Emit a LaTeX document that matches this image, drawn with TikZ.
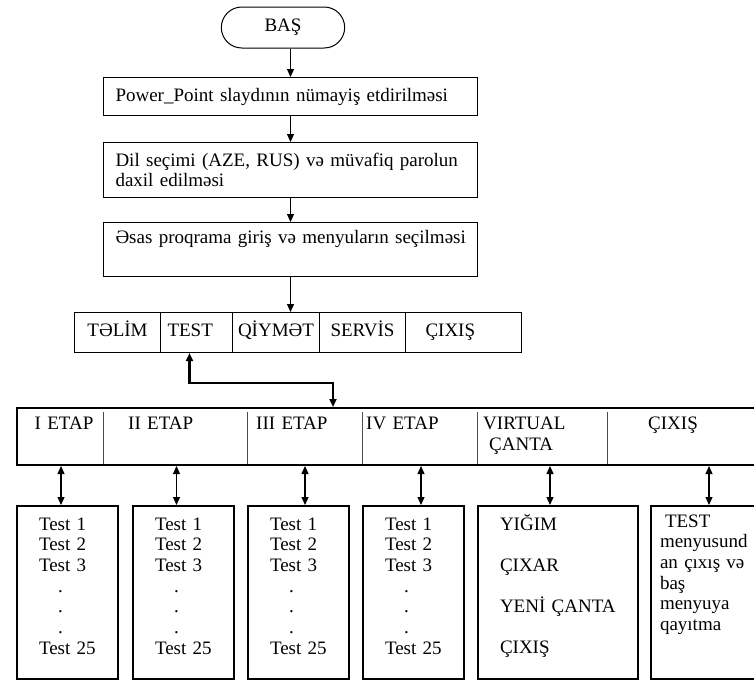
\documentclass[tikz,border=0pt]{standalone}
\usepackage{fontspec}
\setmainfont{Liberation Serif}
\usepackage{tikz}
\usetikzlibrary{arrows.meta,shapes.misc}
\tikzset{
  % frecce
  freccia/.style={line width=1.2pt, -{Triangle[length=8pt,width=7pt]}},
  doppia/.style={line width=1.2pt, {Triangle[length=8pt,width=7pt]}-{Triangle[length=8pt,width=7pt]}},
  % blocco iniziale
  inizio/.style={draw, line width=1pt, rounded rectangle, minimum width=130pt, minimum height=41pt},
  % riquadri del flusso
  blocco/.style={draw, line width=1pt, anchor=north west, align=left,
    inner xsep=12pt, inner ysep=0pt, text width=350pt},
  % celle del menu
  cella/.style={draw, line width=1pt, anchor=north west, minimum height=40pt,
    inner ysep=0pt, text height=24pt, text depth=16pt},
  % intestazioni delle tappe
  tappa/.style={anchor=north west, inner sep=0pt, align=left, text width=100pt},
  divisorio/.style={black!70, line width=0.8pt},
  % riquadri inferiori
  elenco/.style={draw, line width=2pt, anchor=north west, align=left,
    inner ysep=0pt, text height=24pt, text depth=149pt},
  prova/.style={elenco, inner xsep=22pt, text width=57pt}
}

\begin{document}
\begin{tikzpicture}[x=1pt, y=-1pt, font=\fontsize{19}{20.7}\selectfont]
  \useasboundingbox (0,0) rectangle (754,680);
  \clip (0,0) rectangle (754,680);

  % flusso principale
  \node[inizio] (bas) at (283,27.5) {BAŞ};
  \node[blocco, minimum height=38pt] (slayd) at (103,77) {Power\_Point slaydının nümayiş etdirilməsi};
  \node[blocco, minimum height=55pt] (dil) at (103,142) {Dil seçimi (AZE, RUS) və müvafiq parolun\\daxil edilməsi};
  \node[blocco, text height=21pt, text depth=33pt] (giris) at (103,222) {\mbox{Əsas proqrama giriş və menyuların seçilməsi}};

  \draw[freccia] (bas.south -| slayd.north) -- (slayd.north);
  \draw[freccia] (slayd) -- (dil);
  \draw[freccia] (dil) -- (giris);

  % menu
  \node[cella, minimum width=86pt, inner xsep=0pt] (mtelim) at (74,312) {TƏLİM};
  \node[cella, text width=58pt, inner xsep=7pt, align=left] (mtest) at (160,312) {TEST};
  \node[cella, minimum width=87pt, inner xsep=0pt] (mqiy) at (232,312) {QİYMƏT};
  \node[cella, minimum width=86pt, inner xsep=0pt] (mserv) at (319,312) {SERVİS};
  \node[cella, text width=76pt, inner xsep=20pt, align=left] (mcixis) at (405,312) {ÇIXIŞ};

  \draw[freccia] (giris.south) -- (giris.south |- mqiy.north);

  % tappe
  \node[draw, line width=2pt, anchor=north west, minimum width=760pt, minimum height=57pt, inner sep=0pt] (etaps) at (16,407) {};
  \foreach \x in {103,247,362,477,607}
    \draw[divisorio] (\x,412) -- (\x,464);
  \node[tappa] (e1) at (34.5,417) {I ETAP};
  \node[tappa] (e2) at (128,417) {II ETAP};
  \node[tappa] (e3) at (256,417) {III ETAP};
  \node[tappa] (e4) at (366,417) {IV ETAP};
  \node[tappa] (e5) at (483,417) {VIRTUAL\\\hspace*{6pt}ÇANTA};
  \node[tappa] (e6) at (648,417) {ÇIXIŞ};

  \coordinate (gomito) at (333,383);
  \draw[doppia, line width=2.2pt] ([xshift=-7pt]mtest.south) |- (gomito) -- (gomito |- etaps.north);

  % riquadri inferiori
  \node[prova] (t1) at (16,505) {Test 1\\Test 2\\Test 3\\\hspace*{19pt}.\\\hspace*{19pt}.\\\hspace*{19pt}.\\Test~25};
  \node[prova] (t2) at (132,505) {Test 1\\Test 2\\Test 3\\\hspace*{19pt}.\\\hspace*{19pt}.\\\hspace*{19pt}.\\Test~25};
  \node[prova] (t3) at (247,505) {Test 1\\Test 2\\Test 3\\\hspace*{19pt}.\\\hspace*{19pt}.\\\hspace*{19pt}.\\Test~25};
  \node[prova] (t4) at (362,505) {Test 1\\Test 2\\Test 3\\\hspace*{19pt}.\\\hspace*{19pt}.\\\hspace*{19pt}.\\Test~25};
  \node[elenco, inner xsep=22pt, text width=116pt] (canta) at (477,505) {YIĞIM\\[20.3pt]ÇIXAR\\[20.3pt]YENİ~ÇANTA\\[20.3pt]ÇIXIŞ};
  \node[elenco, text width=98pt, inner xsep=9pt, text height=21pt, text depth=152pt] (cixis) at (650,505) {\hspace*{5pt}TEST\\menyusund\\an çıxış və\\baş\\menyuya\\qayıtma};

  \foreach \n/\d in {t1/-6.5, t2/-7, t3/6.5, t4/7.5, canta/-8, cixis/0}
    \draw[doppia] ([xshift=\d pt]\n.north) -- ([xshift=\d pt]\n.north |- etaps.south);
\end{tikzpicture}
\end{document}
